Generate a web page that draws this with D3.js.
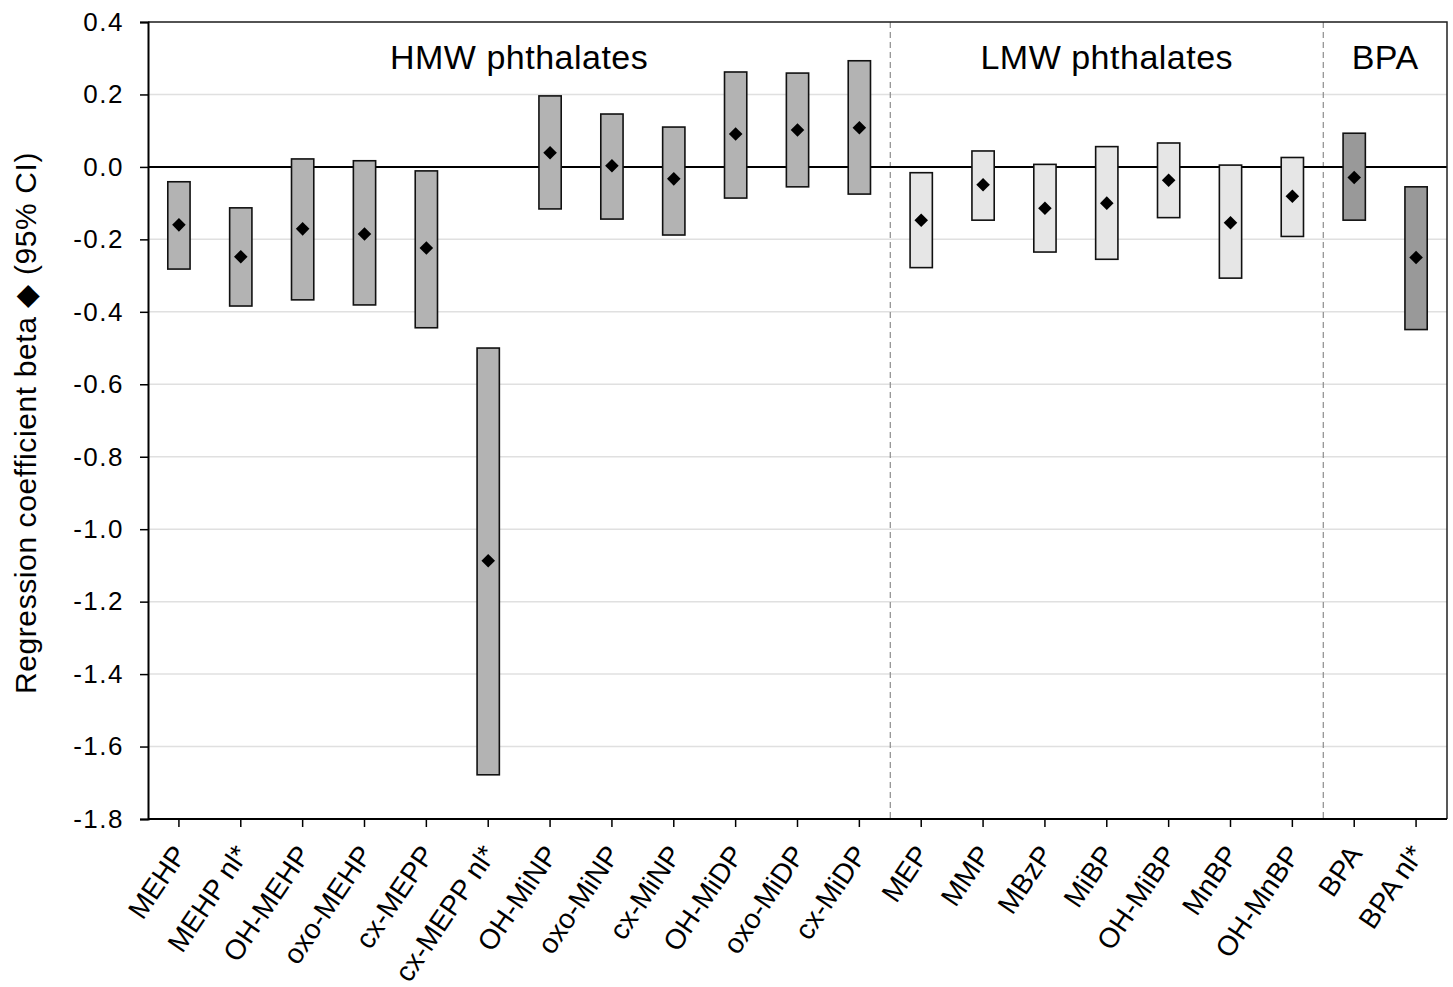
<!DOCTYPE html>
<html><head><meta charset="utf-8">
<script src="https://cdn.jsdelivr.net/npm/d3@7"></script>
<style>body{margin:0;background:#fff;} text{font-family:"Liberation Sans",Arial,sans-serif;}</style>
</head><body>
<svg id="chart" width="1453" height="987"></svg>
<script>
const categories = ["MEHP","MEHP nl*","OH-MEHP","oxo-MEHP","cx-MEPP","cx-MEPP nl*","OH-MiNP","oxo-MiNP","cx-MiNP","OH-MiDP","oxo-MiDP","cx-MiDP","MEP","MMP","MBzP","MiBP","OH-MiBP","MnBP","OH-MnBP","BPA","BPA nl*"];
const groups = ["HMW","HMW","HMW","HMW","HMW","HMW","HMW","HMW","HMW","HMW","HMW","HMW","LMW","LMW","LMW","LMW","LMW","LMW","LMW","BPA","BPA"];
const beta = [-0.160,-0.248,-0.171,-0.185,-0.224,-1.087,0.039,0.003,-0.033,0.091,0.102,0.108,-0.147,-0.049,-0.114,-0.100,-0.037,-0.154,-0.081,-0.029,-0.250];
const ciLow = [-0.282,-0.384,-0.367,-0.381,-0.444,-1.678,-0.116,-0.144,-0.188,-0.086,-0.055,-0.075,-0.278,-0.147,-0.235,-0.255,-0.140,-0.307,-0.192,-0.147,-0.449];
const ciHigh = [-0.041,-0.113,0.022,0.017,-0.011,-0.500,0.196,0.146,0.110,0.262,0.259,0.293,-0.016,0.044,0.007,0.056,0.066,0.005,0.026,0.093,-0.055];
const yTicks = [0.4,0.2,0.0,-0.2,-0.4,-0.6,-0.8,-1.0,-1.2,-1.4,-1.6,-1.8];
const groupLabels = ["HMW phthalates","LMW phthalates","BPA"];
const groupKeys = ["HMW","LMW","BPA"];
const groupFill = {HMW:"#b3b3b3", LMW:"#e6e6e6", BPA:"#999999"};

const svg = d3.select("#chart");
const L=148, R=1447, T=22, B=819;
const x = d3.scaleBand().domain(categories).range([L,R]).paddingInner(0.64).paddingOuter(0.32);
const y = d3.scaleLinear().domain([-1.8,0.4]).range([B,T]);
const cx = c => x(c)+x.bandwidth()/2;

// gridlines
svg.append("g").selectAll("line").data(yTicks).join("line")
  .attr("x1",L).attr("x2",R).attr("y1",d=>y(d)).attr("y2",d=>y(d))
  .attr("stroke","#e0e0e0").attr("stroke-width",1.5);

// group separators
const sepIdx = [];
for(let i=1;i<categories.length;i++){ if(groups[i]!==groups[i-1]) sepIdx.push(i); }
svg.append("g").selectAll("line").data(sepIdx).join("line")
  .attr("x1",i=>(cx(categories[i-1])+cx(categories[i]))/2)
  .attr("x2",i=>(cx(categories[i-1])+cx(categories[i]))/2)
  .attr("y1",T).attr("y2",B)
  .attr("stroke","#8c8c8c").attr("stroke-width",1.2).attr("stroke-dasharray","6,4");

// zero line
svg.append("line").attr("x1",L).attr("x2",R).attr("y1",y(0)).attr("y2",y(0))
  .attr("stroke","#000").attr("stroke-width",2);

// frame top/right
svg.append("path").attr("d",`M${L},${T}H${R}V${B}`).attr("fill","none").attr("stroke","#222").attr("stroke-width",1.5);

// bars
svg.append("g").selectAll("rect").data(categories).join("rect")
  .attr("x",c=>x(c)).attr("width",x.bandwidth())
  .attr("y",(c,i)=>y(ciHigh[i])).attr("height",(c,i)=>y(ciLow[i])-y(ciHigh[i]))
  .attr("fill",(c,i)=>groupFill[groups[i]]).attr("stroke","#111").attr("stroke-width",1.6);

// diamonds
svg.append("g").selectAll("path").data(categories).join("path")
  .attr("d",d3.symbol(d3.symbolSquare,92)())
  .attr("transform",(c,i)=>`translate(${cx(c)},${y(beta[i])}) rotate(45)`)
  .attr("fill","#000");

// axes
const yAxis = d3.axisLeft(y).tickValues(yTicks).tickFormat(d3.format(".1f")).tickSize(8).tickPadding(16);
const gy = svg.append("g").attr("transform",`translate(${L},0)`).call(yAxis);
gy.select(".domain").attr("stroke","#000").attr("stroke-width",2);
gy.selectAll(".tick line").attr("stroke","#000").attr("stroke-width",1.5);
gy.selectAll(".tick text").attr("font-size",26).attr("letter-spacing","1.5px").attr("fill","#000")
  .attr("font-family","Liberation Sans, Arial, sans-serif")
  .text(d=>d3.format(".1f")(d).replace("\u2212","-"));

const xAxis = d3.axisBottom(x).tickSize(8).tickSizeOuter(0);
const gx = svg.append("g").attr("transform",`translate(0,${B})`).call(xAxis);
gx.select(".domain").attr("stroke","#000").attr("stroke-width",2).attr("d",`M${L},0H${R}`);
gx.selectAll(".tick line").attr("stroke","#000").attr("stroke-width",1.5);
gx.selectAll(".tick text").attr("font-size",28).attr("fill","#000")
  .attr("font-family","Liberation Sans, Arial, sans-serif")
  .attr("text-anchor","end").attr("dy",0).attr("y",0)
  .attr("transform","translate(9,35) rotate(-56)");

// group labels
const gCenters = groupKeys.map(g=>{
  const idx = categories.map((c,i)=>i).filter(i=>groups[i]===g);
  const first = idx[0], last = idx[idx.length-1];
  const left = first===0 ? L : (cx(categories[first-1])+cx(categories[first]))/2;
  const right = last===categories.length-1 ? R : (cx(categories[last])+cx(categories[last+1]))/2;
  return (left+right)/2;
});
svg.append("g").selectAll("text").data(groupLabels).join("text")
  .attr("x",(d,i)=>gCenters[i]).attr("y",69).attr("text-anchor","middle")
  .attr("font-size",34).attr("letter-spacing","0.5px").attr("fill","#000").text(d=>d);

// y title
svg.append("text").attr("transform",`translate(36,423) rotate(-90)`)
  .attr("text-anchor","middle").attr("font-size",30).attr("letter-spacing","0.6px").attr("fill","#000")
  .text("Regression coefficient beta \u25C6 (95% CI)");
</script>
</body></html>
